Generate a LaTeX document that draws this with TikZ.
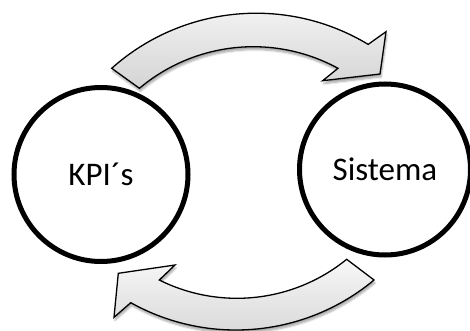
\documentclass[tikz,border=0pt]{standalone}
\usepackage{fontspec}
\setmainfont{Carlito}
\usetikzlibrary{shadows.blur}
\begin{document}
\begin{tikzpicture}[x=1pt,y=-1pt,
  ring/.style={circle,draw=black,line width=5pt,minimum size=174pt,inner sep=0pt,font=\fontsize{33}{38}\selectfont},
  bentarrow/.style={draw=black,line width=1.3pt,line join=miter,
    top color=gray!6,bottom color=gray!34,
    blur shadow={shadow xshift=1pt,shadow yshift=-3pt,shadow opacity=35,shadow blur steps=6}}]
\useasboundingbox (0,0) rectangle (470,331);

% the two states
\node[ring] (kpi) at (101,174.5) {KPI´s};
\node[ring,minimum size=171pt] (sis) at (385,169.5) {Sistema};

% upper curved arrow, KPI's -> Sistema
\path[bentarrow] (111.7,68.3)
  arc[start angle=-131.75,end angle=-58.9,radius=216.9]
  -- (386,31.7) -- (380,74) -- (322.7,80.7) -- (338,68.3)
  arc[start angle=-61.4,end angle=-130.1,radius=176.9]
  -- cycle;

% lower curved arrow, Sistema -> KPI's
\path[bentarrow] (374,280)
  arc[start angle=50.2,end angle=119.15,radius=215.8]
  -- (114,317.3) -- (118.3,273.3) -- (175,265) -- (159.3,280)
  arc[start angle=116.52,end angle=50.87,radius=173.9]
  -- cycle;
\end{tikzpicture}
\end{document}
